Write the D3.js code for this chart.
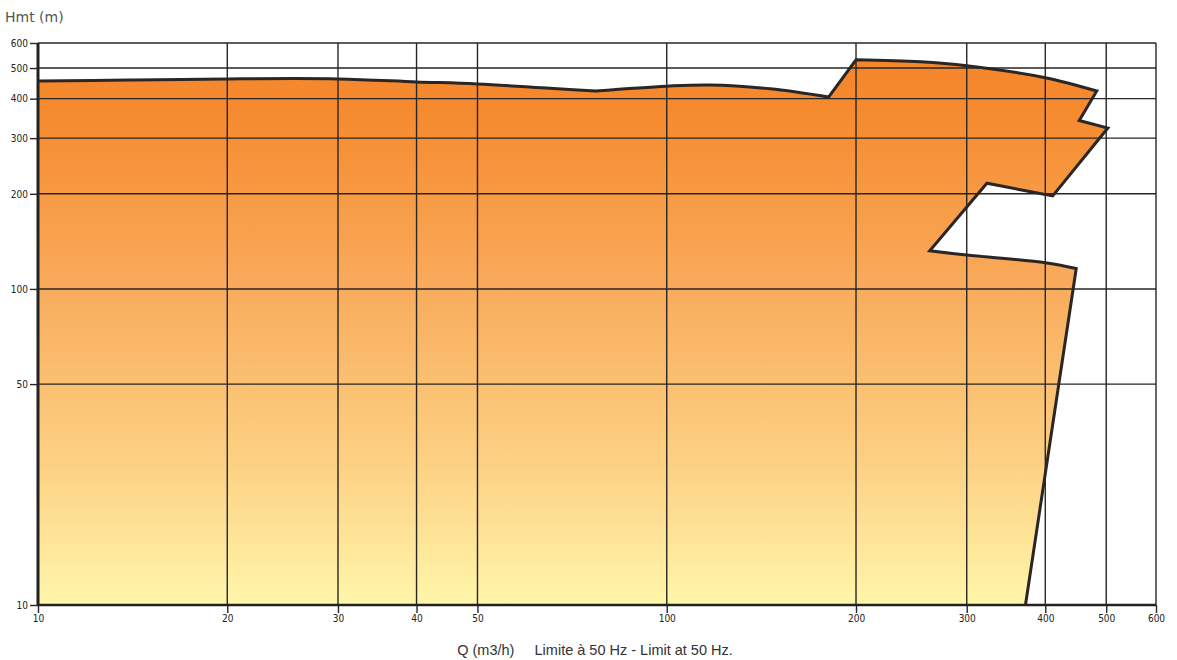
<!DOCTYPE html>
<html><head><meta charset="utf-8">
<script src="https://cdn.jsdelivr.net/npm/d3@7"></script>
<style>body{margin:0;background:#fff}svg{display:block}</style>
</head><body>
<script>
// Data
const xTicks = [10, 20, 30, 40, 50, 100, 200, 300, 400, 500, 600];
const yTicks = [10, 50, 100, 200, 300, 400, 500, 600];
const yLabelTicks = [10, 50, 100, 200, 300, 400, 500, 600];
// Operating envelope (Q m3/h, Hmt m), traced clockwise, in edge segments
// each segment: Q values, H values, curved or straight
const segTopLeftQ = [10, 14, 20, 30, 40, 50, 77];
const segTopLeftH = [455, 458, 462, 462, 452, 445, 423];
const segTopMidQ = [77, 100, 117, 146, 181];
const segTopMidH = [423, 438, 442, 430, 405];
const segJumpQ = [181, 200];
const segJumpH = [405, 531];
const segTopRightQ = [200, 253, 300, 400, 483];
const segTopRightH = [531, 523, 508, 466, 423];
const segNotchQ = [483, 453, 503, 411];
const segNotchH = [423, 341, 323, 197];
const segUpperGapQ = [411, 365, 323];
const segUpperGapH = [197, 206, 216];
const segGapSideQ = [323, 262];
const segGapSideH = [216, 132];
const segLowerGapQ = [262, 300, 400, 448];
const segLowerGapH = [132, 128, 121, 116];
const segRightQ = [448, 372];
const segRightH = [116, 10];
const segBaseQ = [372, 10];
const segBaseH = [10, 10];
const yTitle = "Hmt  (m)";
const xTitle = "Q (m3/h)     Limite à 50 Hz - Limit at 50 Hz.";

const W = 1177, H = 660;
const svg = d3.select("body").append("svg").attr("width", W).attr("height", H);
const x = d3.scaleLog().domain([10, 600]).range([38, 1156]);
const y = d3.scaleLog().domain([10, 600]).range([605, 43]);

const defs = svg.append("defs");
const grad = defs.append("linearGradient").attr("id", "g")
  .attr("gradientUnits", "userSpaceOnUse").attr("x1", 0).attr("x2", 0)
  .attr("y1", y(600)).attr("y2", y(10));
[[0, "#f5832a"], [0.12, "#f68a2e"], [0.45, "#f9ad5e"], [0.75, "#fdd184"], [1, "#fff6aa"]]
  .forEach(([o, c]) => grad.append("stop").attr("offset", o).attr("stop-color", c));

const curved = d3.line().x(d => x(d[0])).y(d => y(d[1])).curve(d3.curveCatmullRom.alpha(0.5));
const straight = d3.line().x(d => x(d[0])).y(d => y(d[1]));
const zip = (qs, hs) => qs.map((q, i) => [q, hs[i]]);
const segs = [
  [segTopLeftQ, segTopLeftH, true],
  [segTopMidQ, segTopMidH, true],
  [segJumpQ, segJumpH, false],
  [segTopRightQ, segTopRightH, true],
  [segNotchQ, segNotchH, false],
  [segUpperGapQ, segUpperGapH, true],
  [segGapSideQ, segGapSideH, false],
  [segLowerGapQ, segLowerGapH, true],
  [segRightQ, segRightH, false],
];
let outline = segs.map(([q, h, c], i) => {
  const d = (c ? curved : straight)(zip(q, h));
  return i === 0 ? d : "L" + d.slice(1);
}).join("");
const base = "L" + straight(zip(segBaseQ, segBaseH)).slice(1);

svg.append("path").attr("d", outline + base + "Z").attr("fill", "url(#g)");

// grid
const g = svg.append("g").attr("stroke", "#262626").attr("stroke-width", 1.4);
g.selectAll(".vx").data(xTicks).join("line")
  .attr("x1", d => x(d)).attr("x2", d => x(d)).attr("y1", y(600)).attr("y2", y(10));
g.selectAll(".hy").data(yTicks).join("line")
  .attr("y1", d => y(d)).attr("y2", d => y(d)).attr("x1", x(10)).attr("x2", x(600));

// axes
const yAxis = d3.axisLeft(y).tickValues(yLabelTicks).tickFormat(d3.format("d")).tickSize(8).tickPadding(2);
const xAxis = d3.axisBottom(x).tickValues(xTicks).tickFormat(d3.format("d")).tickSize(8).tickPadding(2);
const ya = svg.append("g").attr("transform", `translate(${x(10)},0)`).call(yAxis);
const xa = svg.append("g").attr("transform", `translate(0,${y(10)})`).call(xAxis);
[ya, xa].forEach(a => {
  a.select(".domain").remove();
  a.selectAll(".tick line").attr("stroke", "#262626").attr("stroke-width", 1.4);
  a.selectAll(".tick text").attr("fill", "#222").style("font-family", "'DejaVu Sans Condensed', 'DejaVu Sans', sans-serif").style("font-size", "10px");
});
svg.append("line").attr("x1", x(10)).attr("x2", x(10)).attr("y1", y(600)).attr("y2", y(10)+1)
  .attr("stroke", "#222").attr("stroke-width", 3);
svg.append("line").attr("x1", x(10)).attr("x2", x(600)).attr("y1", y(10)).attr("y2", y(10))
  .attr("stroke", "#222").attr("stroke-width", 2.5);

// outline
svg.append("path").attr("d", outline)
  .attr("fill", "none").attr("stroke", "#2a2626").attr("stroke-width", 3)
  .attr("stroke-linejoin", "miter");

svg.append("text").attr("x", 5).attr("y", 22).text(yTitle)
  .attr("fill", "#555").style("font-family", "'DejaVu Sans', sans-serif").style("font-size", "14px");
svg.append("text").attr("x", 595).attr("y", 655).attr("text-anchor", "middle").text(xTitle)
  .attr("fill", "#333").style("font-family", "'Liberation Sans', Arial, sans-serif").style("font-size", "14.5px")
  .style("white-space", "pre");
</script>
</body></html>
